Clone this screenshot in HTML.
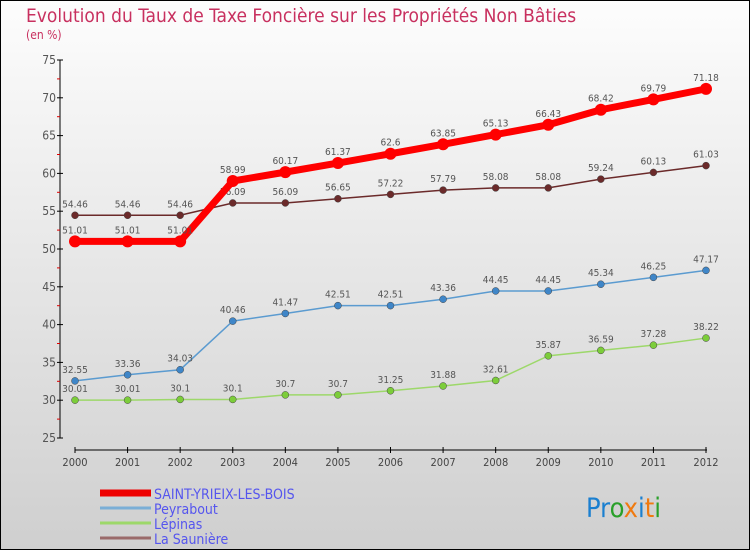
<!DOCTYPE html>
<html><head><meta charset="utf-8"><style>
body{margin:0}
svg{display:block;font-family:"DejaVu Sans Condensed","Liberation Sans",sans-serif}
</style></head><body>
<svg width="750" height="550" viewBox="0 0 750 550">
<defs><linearGradient id="bg" x1="0" y1="0" x2="0" y2="1"><stop offset="0" stop-color="#fdfdfd"/><stop offset="1" stop-color="#cfcfcf"/></linearGradient></defs>
<rect x="0.5" y="0.5" width="749" height="549" fill="url(#bg)" stroke="#000"/>
<text x="26" y="22" font-size="19" fill="#c8305f">Evolution du Taux de Taxe Foncière sur les Propriétés Non Bâties</text>
<text x="26" y="39" font-size="12" fill="#c8305f">(en %)</text>
<g id="axes"></g><g id="series"></g><g id="legend"></g>
<text x="586" y="517" font-size="27"><tspan fill="#1a7fd0">Pr</tspan><tspan fill="#2aa02a">o</tspan><tspan fill="#f07a10">x</tspan><tspan fill="#1a7fd0">i</tspan><tspan fill="#f07a10">t</tspan><tspan fill="#2aa02a">i</tspan></text>
</svg>
<script>
const years=[2000,2001,2002,2003,2004,2005,2006,2007,2008,2009,2010,2011,2012];
const yTicks=[25,30,35,40,45,50,55,60,65,70,75];
const saint=[51.01,51.01,51.01,58.99,60.17,61.37,62.6,63.85,65.13,66.43,68.42,69.79,71.18];
const peyrabout=[32.55,33.36,34.03,40.46,41.47,42.51,42.51,43.36,44.45,44.45,45.34,46.25,47.17];
const lepinas=[30.01,30.01,30.1,30.1,30.7,30.7,31.25,31.88,32.61,35.87,36.59,37.28,38.22];
const sauniere=[54.46,54.46,54.46,56.09,56.09,56.65,57.22,57.79,58.08,58.08,59.24,60.13,61.03];
const seriesNames=["SAINT-YRIEIX-LES-BOIS","Peyrabout","Lépinas","La Saunière"];
const NS="http://www.w3.org/2000/svg";
const x=i=>75+i*(706-75)/(years.length-1);
const y=v=>438-(v-25)*7.56;
function mk(t,a,p){const e=document.createElementNS(NS,t);for(const k in a)e.setAttribute(k,a[k]);p.appendChild(e);return e;}
const ax=document.getElementById('axes');
let l=mk('line',{x1:60,y1:y(75),x2:60,y2:y(25),stroke:'#000'},ax);


yTicks.forEach((t,i)=>{
 mk('line',{x1:57,y1:y(t),x2:63,y2:y(t),stroke:'#000'},ax);
 if(i<yTicks.length-1) mk('line',{x1:57,y1:y(t+2.5),x2:60,y2:y(t+2.5),stroke:'#d00'},ax);
 const tx=mk('text',{x:56,y:y(t)+4,'font-size':12,fill:'#555','text-anchor':'end'},ax);tx.textContent=t;
 
 
});
l=mk('line',{x1:75,y1:450,x2:707,y2:450,stroke:'#000'},ax);


years.forEach((yr,i)=>{
 mk('line',{x1:x(i),y1:447,x2:x(i),y2:453,stroke:'#000'},ax);
 const tx=mk('text',{x:x(i),y:466,'font-size':11,fill:'#444','text-anchor':'middle'},ax);tx.textContent=yr;
 
 
});
const sg=document.getElementById('series');
const defs=[[lepinas,'#9dd86a','#7ccd3a',1.5,3.5,'lepinas'],[peyrabout,'#5b9bd0','#3f86c8',1.5,3.5,'peyrabout'],[sauniere,'#6b2a2a','#6b2a2a',1.5,3.5,'la-sauniere'],[saint,'#f00','#f00',7,6,'saint-yrieix']];
defs.forEach(([d,c,f,w,r,n])=>{
 const p=mk('polyline',{points:d.map((v,i)=>x(i)+','+y(v)).join(' '),fill:'none',stroke:c,'stroke-width':w},sg);
 
 
 d.forEach((v,i)=>{
  const ci=mk('circle',{cx:x(i),cy:y(v),r:r,fill:f,stroke:w>3?'none':'#444','stroke-width':0.5},sg);
  
  
  const tx=mk('text',{x:x(i),y:y(v)-8,'font-size':10,fill:'#555','text-anchor':'middle'},sg);tx.textContent=v;
  
  
 });
});
const lg=document.getElementById('legend');
const lc=['#e00','#7aaed6','#9dd86a','#9a6a6a'];
seriesNames.forEach((s,i)=>{
 const yy=493+i*15;
 const ln=mk('line',{x1:100,y1:yy,x2:151,y2:yy,stroke:lc[i],'stroke-width':i==0?7:3},lg);
 
 
 const tx=mk('text',{x:154,y:yy+6,'font-size':14,fill:'#5555ee'},lg);tx.textContent=s;
 
 
});
</script>
</body></html>
